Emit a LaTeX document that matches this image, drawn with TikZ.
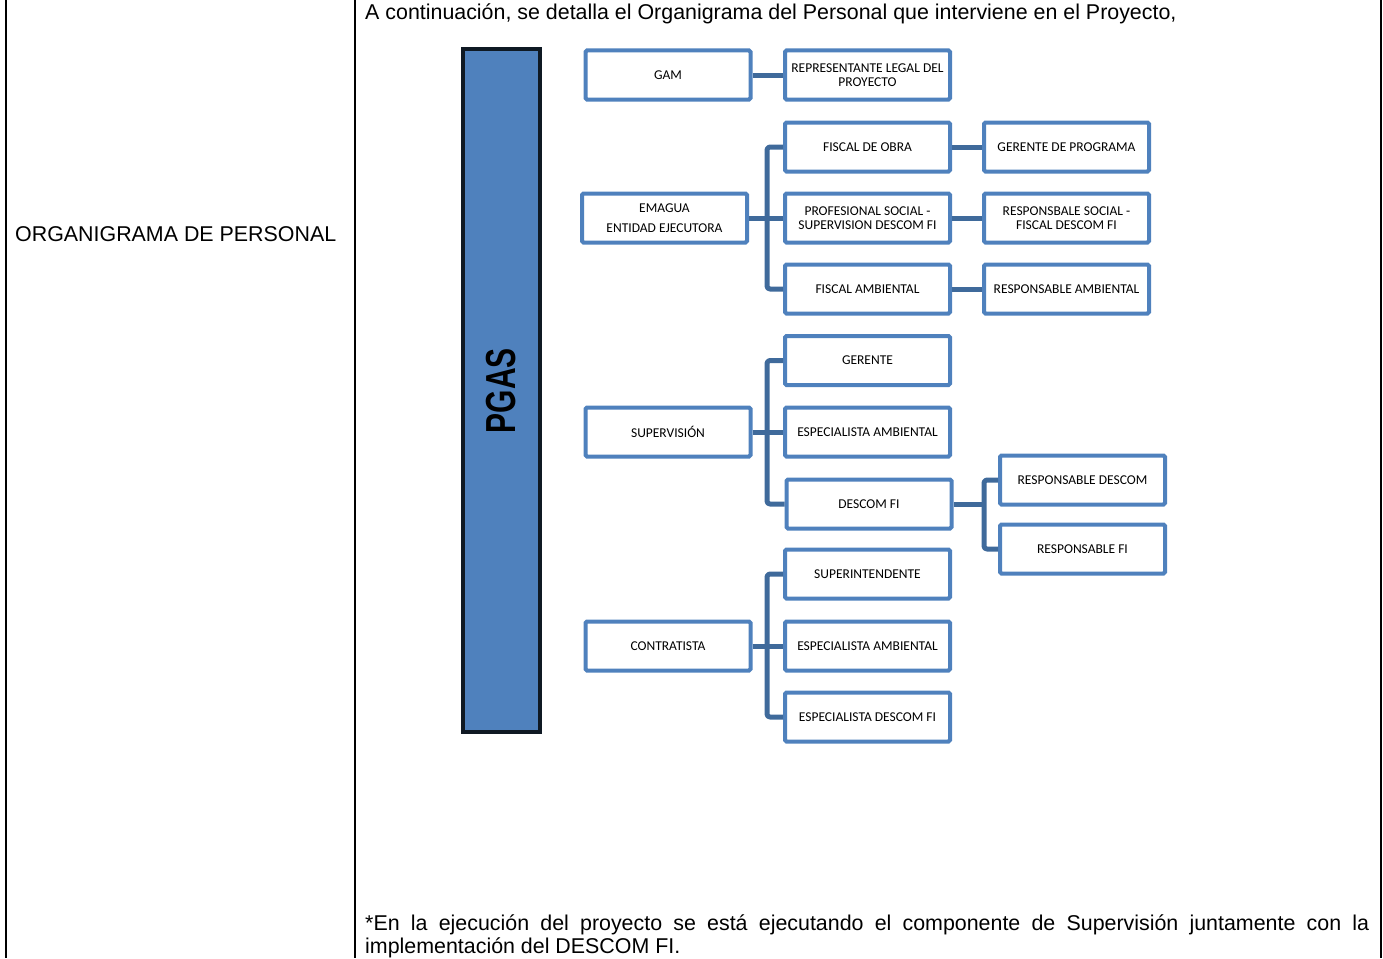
\documentclass[tikz,border=0pt]{standalone}
\usepackage{fontspec}
\setmainfont{Liberation Sans}
\newfontfamily\boxfont{Carlito}
\usepackage{graphicx}
\definecolor{boxblue}{HTML}{4F81BD}
\definecolor{linkblue}{HTML}{3F6A9B}
\definecolor{bardark}{HTML}{0F1923}
\begin{document}
\begin{tikzpicture}[x=1pt,y=-1pt,
  orgbox/.style={draw=boxblue, line width=4pt, fill=white, rounded corners=1.5pt,
    minimum width=165pt, minimum height=49pt, inner sep=0pt, align=center,
    font=\boxfont\fontsize{13.5}{14}\selectfont},
  link/.style={draw=linkblue, line width=5pt, line join=round, rounded corners=3pt},
  rule/.style={draw=black, line width=2pt},
  bodytext/.style={font=\fontsize{21.4}{23}\selectfont, inner sep=0pt}]
\useasboundingbox (0,0) rectangle (1383,958);
% table rules
\draw[rule] (6,0) -- (6,958);
\draw[rule] (355,0) -- (355,958);
\draw[rule] (1381,0) -- (1381,958);
% texts
\node[bodytext, anchor=base west] (intro) at (365,20) {A continuación, se detalla el Organigrama del Personal que interviene en el Proyecto,};
\node[bodytext, anchor=base west] (title) at (15,241) {ORGANIGRAMA DE PERSONAL};
\node[bodytext, anchor=north west, text width=1004pt, align=justify] (note) at (365,915)
  {*En la ejecución del proyecto se está ejecutando el componente de Supervisión juntamente con la\linebreak implementación del DESCOM FI.};
% PGAS bar
\node[draw=bardark, fill=boxblue, line width=4pt, minimum width=77pt, minimum height=683pt, inner sep=0pt] (pgas) at (501.5,390.5) {};
\node[rotate=90, font=\bfseries\fontsize{30}{30}\selectfont, inner sep=0pt] (pgaslabel) at (pgas.center) {\scalebox{1}[1.4]{PGAS}};
% boxes
\node[orgbox] (gam) at (668,75) {GAM};
\node[orgbox] (rep) at (867.5,75) {REPRESENTANTE LEGAL DEL\\PROYECTO};
\node[orgbox] (fob) at (867.5,147) {FISCAL DE OBRA};
\node[orgbox] (gprog) at (1066.5,147) {GERENTE DE PROGRAMA};
\node[orgbox] (emagua) at (664.5,218) {EMAGUA\\[6pt]ENTIDAD EJECUTORA};
\node[orgbox] (psoc) at (867.5,218) {PROFESIONAL SOCIAL -\\SUPERVISION DESCOM FI};
\node[orgbox] (rsoc) at (1066.5,218) {RESPONSBALE SOCIAL -\\FISCAL DESCOM FI};
\node[orgbox] (famb) at (867.5,289) {FISCAL AMBIENTAL};
\node[orgbox] (ramb) at (1066.5,289) {RESPONSABLE AMBIENTAL};
\node[orgbox] (ger) at (867.5,360.5) {GERENTE};
\node[orgbox] (sup) at (668,432) {SUPERVISIÓN};
\node[orgbox] (eamba) at (867.5,432) {ESPECIALISTA AMBIENTAL};
\node[orgbox] (descom) at (869,504) {DESCOM FI};
\node[orgbox] (rdescom) at (1082.5,480) {RESPONSABLE DESCOM};
\node[orgbox] (rfi) at (1082.5,549) {RESPONSABLE FI};
\node[orgbox] (supint) at (867.5,574) {SUPERINTENDENTE};
\node[orgbox] (contr) at (668,646) {CONTRATISTA};
\node[orgbox] (eambb) at (867.5,646) {ESPECIALISTA AMBIENTAL};
\node[orgbox] (edfi) at (867.5,717) {ESPECIALISTA DESCOM FI};
% connectors
\draw[link] (gam) -- (rep);
\draw[link] (fob) -- (gprog);
\draw[link] (psoc) -- (rsoc);
\draw[link] (famb) -- (ramb);
\coordinate (ja) at (767,218);
\draw[link] (emagua.east) -- (ja) -- (psoc.west);
\draw[link] (fob.west) -| (ja) |- (famb.west);
\coordinate (jb) at (767,432);
\draw[link] (sup.east) -- (jb) -- (eamba.west);
\draw[link] (ger.west) -| (jb) |- (descom.west);
\coordinate (jc) at (984,504);
\draw[link] (descom.east) -- (jc);
\draw[link] (rdescom.west) -| (jc) |- (rfi.west);
\coordinate (jd) at (767,646);
\draw[link] (contr.east) -- (jd) -- (eambb.west);
\draw[link] (supint.west) -| (jd) |- (edfi.west);
\end{tikzpicture}
\end{document}
